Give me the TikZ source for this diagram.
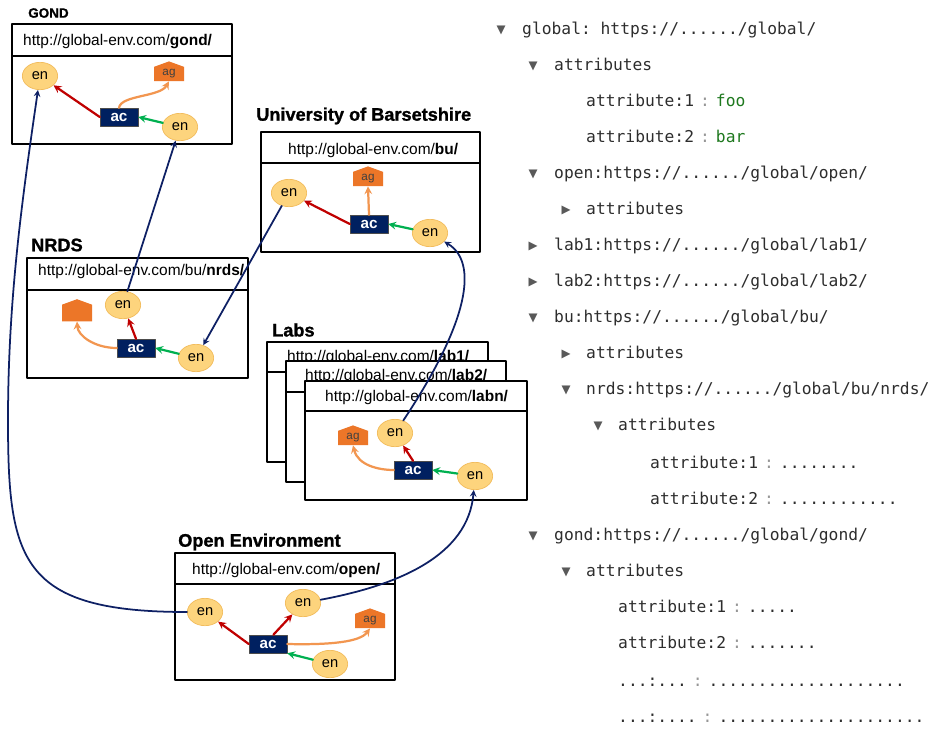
\documentclass[tikz,border=0pt]{standalone}
\usepackage{fontspec}
\setmainfont{Liberation Sans}
\setmonofont{DejaVu Sans Mono}
\newfontfamily\symfont{DejaVu Sans}
\newfontface\heavyfont[FakeBold=1.2]{Liberation Sans Bold}
\usetikzlibrary{shapes.geometric,shapes.symbols}
\definecolor{acnavy}{RGB}{0,32,96}
\definecolor{enfill}{RGB}{253,212,125}
\definecolor{endraw}{RGB}{242,188,92}
\definecolor{agfill}{RGB}{236,118,40}
\definecolor{relred}{RGB}{192,0,0}
\definecolor{relgreen}{RGB}{0,176,80}
\definecolor{relorange}{RGB}{242,150,80}
\definecolor{linkblue}{RGB}{14,32,100}
\definecolor{treegray}{RGB}{45,45,45}
\definecolor{sepgray}{RGB}{150,150,150}
\definecolor{valgreen}{RGB}{30,120,30}
\newcommand\sep{\textcolor{sepgray}{\hspace{0.37em}:\hspace{0.37em}}}
\begin{document}
\begin{tikzpicture}[x=0.03cm,y=-0.03cm,>=stealth,line join=round,line cap=round,
  frame/.style={draw=black,line width=1.3pt,fill=white},
  boxtitle/.style={anchor=west,inner sep=0,font=\heavyfont\fontsize{15.5}{16}\selectfont},
  urltext/.style={anchor=west,inner sep=0,font=\fontsize{13.2}{14}\selectfont},
  enode/.style={ellipse,draw=endraw,fill=enfill,line width=0.6pt,minimum width=1.06cm,minimum height=0.82cm,inner sep=0,font=\fontsize{12.5}{12}\selectfont},
  acnode/.style={rectangle,draw=black!70,fill=acnavy,text=white,minimum width=1.14cm,minimum height=0.54cm,inner sep=0,font=\bfseries\fontsize{13}{13}\selectfont},
  agnode/.style={signal,signal to=north,signal pointer angle=140,fill=agfill,minimum width=0.9cm,minimum height=0.5cm,inner sep=0,font=\fontsize{10}{10}\selectfont,text=black!75},
  redrel/.style={->,draw=relred,line width=1.9pt},
  greenrel/.style={->,draw=relgreen,line width=1.9pt},
  orangerel/.style={->,draw=relorange,line width=1.9pt},
  link/.style={->,draw=linkblue,line width=1.5pt},
  tmark/.style={inner sep=0,text=black!65,font=\symfont\fontsize{10}{10}\selectfont},
  ttext/.style={anchor=base west,inner sep=0,text=treegray,font=\ttfamily\fontsize{13.9}{14}\selectfont}]
\useasboundingbox (0,0) rectangle (934,728);
% GOND
\node[boxtitle,font=\heavyfont\fontsize{11.5}{12}\selectfont] (gondTitle) at (28,13) {GOND};
\draw[frame] (12,24) rectangle (232,144); \draw[line width=1.3pt] (12,56)--(232,56);
\node[urltext] (gondUrl) at (23,42) {http://global-env.com/\textbf{gond/}};
\node[enode] (gondEnA) at (40,76) {en};
\node[agnode] (gondAg) at (169,74) {ag};
\node[acnode] (gondAc) at (119,117) {ac};
\node[enode] (gondEnB) at (180,127) {en};
\draw[redrel] (gondAc.west)--(gondEnA);
\draw[orangerel] (gondAc.north) .. controls (121,95) and (160,97) .. (gondAg.south);
\draw[greenrel] (gondEnB)--(gondAc.east);
% University
\node[boxtitle] (buTitle) at (256,116) {University of Barsetshire};
\draw[frame] (261,132) rectangle (480,252); \draw[line width=1.3pt] (261,163)--(480,163);
\node[urltext] (buUrl) at (288,150) {http://global-env.com/\textbf{bu/}};
\node[enode] (buEnA) at (289,193) {en};
\node[agnode] (buAg) at (368,179) {ag};
\node[acnode] (buAc) at (369,224) {ac};
\node[enode] (buEnB) at (430,233) {en};
\draw[redrel] (buAc.west)--(buEnA);
\draw[orangerel] (buAc.north)--(buAg.south);
\draw[greenrel] (buEnB)--(buAc.east);
% NRDS
\node[boxtitle] (nrdsTitle) at (31,245) {NRDS};
\draw[frame] (27,258) rectangle (248,378); \draw[line width=1.3pt] (27,290)--(248,290);
\node[urltext] (nrdsUrl) at (38,271) {http://global-env.com/bu/\textbf{nrds/}};
\node[agnode] (nrdsAg) at (77,313) {};
\node[enode] (nrdsEnA) at (123,305) {en};
\node[acnode] (nrdsAc) at (136,348) {ac};
\node[enode] (nrdsEnB) at (196,358) {en};
\draw[redrel] (nrdsAc.north)--(nrdsEnA);
\draw[orangerel] (nrdsAc.west) .. controls (95,348) and (78,336) .. (nrdsAg.south);
\draw[greenrel] (nrdsEnB)--(nrdsAc.east);
% Labs
\node[boxtitle] (labsTitle) at (272,330) {Labs};
\draw[frame] (267,342) rectangle (488,462); \draw[line width=1.3pt] (267,372)--(488,372);
\node[urltext] (labOneUrl) at (287,357) {http://global-env.com/\textbf{lab1/}};
\draw[frame] (286,361) rectangle (506,482); \draw[line width=1.3pt] (286,392)--(506,392);
\node[urltext] (labTwoUrl) at (305,376) {http://global-env.com/\textbf{lab2/}};
\draw[frame] (305,381) rectangle (527,500); \draw[line width=1.3pt] (305,411)--(527,411);
\node[urltext] (labNUrl) at (325,397) {http://global-env.com/\textbf{labn/}};
\node[agnode] (labsAg) at (353,438) {ag};
\node[enode] (labsEnA) at (395,433) {en};
\node[acnode] (labsAc) at (413,470) {ac};
\node[enode] (labsEnB) at (475,476) {en};
\draw[redrel] (labsAc.north)--(labsEnA);
\draw[orangerel] (labsAc.west) .. controls (378,470) and (358,465) .. (labsAg.south);
\draw[greenrel] (labsEnB)--(labsAc.east);
% Open Environment
\node[boxtitle] (openTitle) at (178,542) {Open Environment};
\draw[frame] (175,553) rectangle (395,680); \draw[line width=1.3pt] (175,584)--(395,584);
\node[urltext] (openUrl) at (192,570) {http://global-env.com/\textbf{open/}};
\node[enode] (openEnA) at (205,612) {en};
\node[enode] (openEnB) at (303,603) {en};
\node[agnode] (openAg) at (370,621) {ag};
\node[acnode] (openAc) at (268,644) {ac};
\node[enode] (openEnC) at (330,664) {en};
\draw[redrel] (openAc.west)--(openEnA);
\draw[redrel] (openAc.60)--(openEnB);
\draw[orangerel] (openAc.east) .. controls (330,645) and (360,642) .. (openAg.south);
\draw[greenrel] (openEnC)--(openAc.south east);
% links between environments
\draw[link] (openEnA) .. controls (20,612) and (8,560) .. (8,420) .. controls (8,300) and (22,200) .. (gondEnA);
\draw[link] (openEnB) .. controls (400,585) and (468,555) .. (labsEnB);
\draw[link] (labsEnA) .. controls (470,320) and (478,262) .. (buEnB);
\draw[link] (buEnA)--(nrdsEnB);
\draw[link] (nrdsEnA)--(gondEnB);
% tree
\node[tmark] (m1) at (501,30) {▼};  \node[ttext] (t1) at (522,34) {global: https://....../global/};
\node[tmark] (m2) at (533,66) {▼};  \node[ttext] (t2) at (554,70) {attributes};
\node[ttext] (t3) at (586,106) {attribute:1\sep\textcolor{valgreen}{foo}};
\node[ttext] (t4) at (586,142) {attribute:2\sep\textcolor{valgreen}{bar}};
\node[tmark] (m5) at (533,174) {▼}; \node[ttext] (t5) at (554,178) {open:https://....../global/open/};
\node[tmark] (m6) at (566,210) {▶}; \node[ttext] (t6) at (586,214) {attributes};
\node[tmark] (m7) at (533,246) {▶}; \node[ttext] (t7) at (554,250) {lab1:https://....../global/lab1/};
\node[tmark] (m8) at (533,282) {▶}; \node[ttext] (t8) at (554,286) {lab2:https://....../global/lab2/};
\node[tmark] (m9) at (533,318) {▼}; \node[ttext] (t9) at (554,322) {bu:https://....../global/bu/};
\node[tmark] (m10) at (566,354) {▶}; \node[ttext] (t10) at (586,358) {attributes};
\node[tmark] (m11) at (566,390) {▼}; \node[ttext] (t11) at (586,394) {nrds:https://....../global/bu/nrds/};
\node[tmark] (m12) at (598,426) {▼}; \node[ttext] (t12) at (618,430) {attributes};
\node[ttext] (t13) at (650,468) {attribute:1\sep........};
\node[ttext] (t14) at (650,504) {attribute:2\sep............};
\node[tmark] (m15) at (533,536) {▼}; \node[ttext] (t15) at (554,540) {gond:https://....../global/gond/};
\node[tmark] (m16) at (566,572) {▼}; \node[ttext] (t16) at (586,576) {attributes};
\node[ttext] (t17) at (618,612) {attribute:1\sep.....};
\node[ttext] (t18) at (618,648) {attribute:2\sep.......};
\node[ttext] (t19) at (618,686) {...:...\sep....................};
\node[ttext] (t20) at (618,722) {...:....\sep.....................};
\end{tikzpicture}
\end{document}
